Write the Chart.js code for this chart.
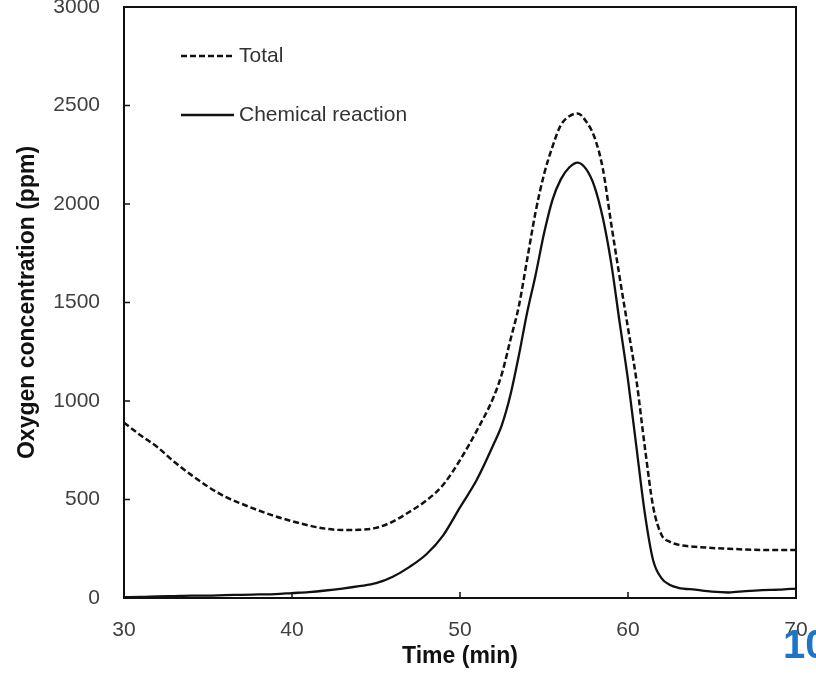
<!DOCTYPE html>
<html>
<head>
<meta charset="utf-8">
<script src="https://cdn.jsdelivr.net/npm/chart.js@4.4.1/dist/chart.umd.min.js"></script>
<style>
  html, body { margin: 0; padding: 0; background: #fff; }
  #wrap { position: relative; width: 816px; height: 674px; overflow: hidden; }
  #page { position: absolute; left: 783px; top: 622px; color: #1f74c4; font: bold 40px "Liberation Sans Narrow", "Liberation Sans", Arial, sans-serif; }
</style>
</head>
<body>
<div id="wrap">
  <canvas id="chart" width="816" height="674"></canvas>
  <div id="page">10</div>
</div>
<script>
// time (min)
var times = [30,31,32,33,34,35,36,37,38,39,40,41,42,43,44,45,46,47,48,49,50,51,52,52.5,53,53.5,54,54.5,55,55.5,56,56.5,57,57.5,58,58.5,59,59.5,60,60.5,61,61.5,62,62.5,63,64,65,66,67,68,69,70];
// oxygen concentration (ppm)
var totalVals = [890,825,765,690,625,565,515,478,445,415,390,368,352,345,346,356,388,438,495,575,700,850,1020,1140,1310,1480,1720,1960,2150,2290,2400,2445,2460,2420,2340,2180,1900,1630,1370,1107,767,462,320,285,270,260,254,250,246,244,244,244];
var chemVals = [4,5,8,10,12,12,15,16,18,20,25,30,38,48,60,75,108,158,222,318,460,600,780,880,1030,1230,1450,1640,1850,2020,2125,2185,2210,2178,2090,1930,1700,1400,1107,767,431,190,100,66,52,42,32,28,35,40,42,48];
var xTicks = [30,40,50,60,70];
var yTicks = [0,500,1000,1500,2000,2500,3000];
var legendLabels = ["Total", "Chemical reaction"];

function pts(vals){
  return times.map(function(t,i){ return {x: t, y: vals[i]} });
}

var frame = {
  id: "frame",
  afterDatasetsDraw: function(chart){
    var ctx = chart.ctx, a = chart.chartArea;
    var xs = chart.scales.x, ys = chart.scales.y;
    ctx.save();
    ctx.strokeStyle = "#111";
    ctx.lineWidth = 2;
    ctx.strokeRect(a.left, a.top, a.right - a.left, a.bottom - a.top);
    ctx.lineWidth = 1.5;
    ctx.beginPath();
    for (var v of xTicks){
      var px = xs.getPixelForValue(v);
      ctx.moveTo(px, a.bottom); ctx.lineTo(px, a.bottom - 6);
    }
    for (var w of yTicks){
      var py = ys.getPixelForValue(w);
      ctx.moveTo(a.left, py); ctx.lineTo(a.left + 6, py);
    }
    ctx.stroke();

    // legend inside the plot
    ctx.font = '21px "Liberation Sans", Arial, sans-serif';
    ctx.fillStyle = "#333";
    ctx.textBaseline = "middle";
    ctx.strokeStyle = "#111";
    ctx.lineWidth = 2.4;
    ctx.setLineDash([6,3]);
    ctx.beginPath(); ctx.moveTo(181, 56); ctx.lineTo(234, 56); ctx.stroke();
    ctx.setLineDash([]);
    ctx.beginPath(); ctx.moveTo(181, 115); ctx.lineTo(234, 115); ctx.stroke();
    ctx.fillText(legendLabels[0], 239, 56);
    ctx.fillText(legendLabels[1], 239, 115);
    ctx.restore();
  }
};

var tickFont = { family: '"Liberation Sans", Arial, sans-serif', size: 21 };
var titleFont = { family: '"Liberation Sans", Arial, sans-serif', size: 23, weight: "bold" };

new Chart("chart", {
  type: "line",
  data: {
    datasets: [{
      label: legendLabels[0],
      data: pts(totalVals),
      borderColor: "#111",
      borderWidth: 2.5,
      borderDash: [6,3],
      pointRadius: 0,
      cubicInterpolationMode: "monotone",
      fill: false
    }, {
      label: legendLabels[1],
      data: pts(chemVals),
      borderColor: "#111",
      borderWidth: 2.3,
      pointRadius: 0,
      cubicInterpolationMode: "monotone",
      fill: false
    }]
  },
  options: {
    responsive: false,
    animation: false,
    layout: { padding: { left: 0, right: 20, top: 7, bottom: 0 } },
    plugins: { legend: { display: false }, tooltip: { enabled: false } },
    scales: {
      x: {
        type: "linear",
        min: 30, max: 70,
        afterBuildTicks: function(s){ s.ticks = xTicks.map(function(v){ return {value: v} }) },
        afterFit: function(s){ s.height = 76; s.paddingLeft = 0; s.paddingRight = 0 },
        grid: { display: false, drawTicks: false },
        border: { display: false },
        ticks: { padding: 20, color: "#404040", font: tickFont, callback: function(v){ return String(v) } },
        title: { display: true, text: "Time (min)", color: "#111", padding: { top: 0, bottom: 4 }, font: titleFont }
      },
      y: {
        min: 0, max: 3000,
        afterBuildTicks: function(s){ s.ticks = yTicks.map(function(v){ return {value: v} }) },
        afterFit: function(s){ s.width = 124; s.paddingTop = 0; s.paddingBottom = 0 },
        grid: { display: false, drawTicks: false },
        border: { display: false },
        ticks: { padding: 24, color: "#404040", font: tickFont, callback: function(v){ return String(v) } },
        title: { display: true, text: "Oxygen concentration (ppm)", color: "#111", padding: { top: 14 }, font: titleFont }
      }
    }
  },
  plugins: [frame]
});
</script>
</body>
</html>
